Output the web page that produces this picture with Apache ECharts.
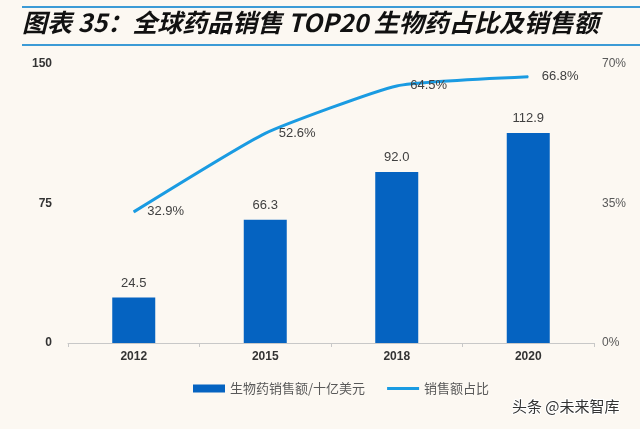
<!DOCTYPE html>
<html>
<head>
<meta charset="utf-8">
<script src="https://cdn.jsdelivr.net/npm/echarts@6/dist/echarts.min.js"></script>
<style>
html,body{margin:0;padding:0;background:#fcf8f2;}
#c{width:640px;height:429px;}
</style>
</head>
<body>
<div id="c"></div>
<script>
var categories = ['2012', '2015', '2018', '2020'];
var salesValues = [24.5, 66.3, 92.0, 112.9];
var shareValues = [32.9, 52.6, 64.5, 66.8];
var leftTicks = { min: 0, max: 150, interval: 75 };
var rightTicks = { min: 0, max: 70, interval: 35 };
var seriesNames = ['生物药销售额/十亿美元', '销售额占比'];
var titleText = '图表 35：全球药品销售 TOP20 生物药占比及销售额';
var watermark = '头条 @未来智库';

var chart = echarts.init(document.getElementById('c'));
var cjk = '"Noto Sans CJK SC", "Liberation Sans", sans-serif';
chart.setOption({
  backgroundColor: '#fcf8f2',
  textStyle: { fontFamily: '"Liberation Sans", "Noto Sans CJK SC", sans-serif' },
  graphic: [
    { type: 'rect', shape: { x: 22, y: 6, width: 618, height: 2 }, style: { fill: '#3c9bd6' } },
    { type: 'rect', shape: { x: 22, y: 44, width: 618, height: 2 }, style: { fill: '#3c9bd6' } },
    { type: 'text', x: 22, y: 10, style: { text: titleText, font: 'italic bold 25px ' + cjk, fill: '#111' } },
    { type: 'text', x: 512, y: 399, style: { text: watermark, font: '15px ' + cjk, fill: '#333', stroke: '#fff', lineWidth: 2 } }
  ],
  grid: { left: 68, right: 46, top: 64, bottom: 86 },
  legend: {
    bottom: 29,
    left: 188,
    itemGap: 22,
    itemWidth: 32,
    itemHeight: 8,
    textStyle: { fontFamily: cjk, fontSize: 13, color: '#595959' },
    data: [
      { name: seriesNames[0], icon: 'rect' },
      { name: seriesNames[1], icon: 'path://M0,0h32v3h-32z' }
    ]
  },
  xAxis: {
    type: 'category',
    data: categories,
    boundaryGap: true,
    axisLine: { lineStyle: { color: '#c8c8c8' } },
    axisTick: { show: true, length: 4, lineStyle: { color: '#c8c8c8' } },
    axisLabel: { color: '#333', fontWeight: 'bold', fontSize: 12, margin: 8 }
  },
  yAxis: [
    {
      type: 'value', min: leftTicks.min, max: leftTicks.max, interval: leftTicks.interval,
      splitLine: { show: false }, axisLine: { show: false }, axisTick: { show: false },
      axisLabel: { color: '#333', fontWeight: 'bold', fontSize: 12, margin: 16 }
    },
    {
      type: 'value', min: rightTicks.min, max: rightTicks.max, interval: rightTicks.interval,
      splitLine: { show: false }, axisLine: { show: false }, axisTick: { show: false },
      axisLabel: { color: '#595959', fontSize: 12, margin: 8, formatter: '{value}%' }
    }
  ],
  series: [
    {
      name: seriesNames[0],
      type: 'bar',
      data: salesValues,
      barWidth: 43,
      itemStyle: { color: '#0563c1' },
      label: { show: true, position: 'top', color: '#404040', fontSize: 13, distance: 8,
        formatter: function (p) { return p.value.toFixed(1); } }
    },
    {
      name: seriesNames[1],
      type: 'line',
      yAxisIndex: 1,
      data: shareValues,
      smooth: 0.15,
      symbol: 'circle',
      symbolSize: 1,
      showSymbol: true,
      lineStyle: { color: '#1a9be2', width: 3 },
      itemStyle: { color: '#1a9be2' },
      label: { show: true, position: 'right', distance: 13, color: '#404040', fontSize: 13,
        formatter: function (p) { return p.value.toFixed(1) + '%'; } }
    }
  ]
});
</script>
</body>
</html>
